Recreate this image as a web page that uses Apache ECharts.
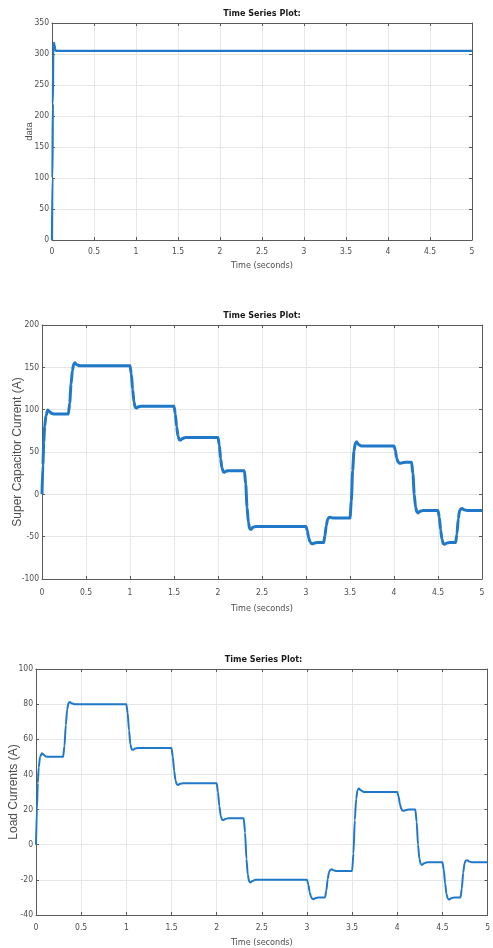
<!DOCTYPE html>
<html>
<head>
<meta charset="utf-8">
<script src="https://cdn.jsdelivr.net/npm/echarts@6/dist/echarts.min.js"></script>
<style>
html,body{margin:0;padding:0;background:#fff;}
#chart{width:493px;height:948px;}
</style>
</head>
<body>
<div id="chart"></div>
<script>
// ---- Data ----
const titleText = 'Time Series Plot:';
const xAxisName = 'Time (seconds)';

// Panel 1: DC voltage ("data")
const voltTime  = [0, 0.005, 0.01, 0.015, 0.02, 0.025, 0.03, 0.037, 0.045, 0.06, 5.0];
const voltValue = [0, 100, 220, 300, 316, 318, 315, 308, 305.5, 305, 305];

// Panel 2: Super Capacitor Current (A)
const scTime = [0,0.01,0.02,0.03,0.045,0.065,0.085,0.11,0.14,0.30,
  0.315,0.33,0.345,0.36,0.375,0.395,0.43,1.00,
  1.015,1.03,1.045,1.06,1.075,1.095,1.13,1.50,
  1.515,1.53,1.545,1.56,1.575,1.595,1.63,2.00,
  2.015,2.03,2.045,2.06,2.075,2.095,2.13,2.30,
  2.315,2.33,2.345,2.36,2.375,2.395,2.43,3.00,
  3.015,3.03,3.045,3.06,3.075,3.095,3.13,3.20,
  3.215,3.23,3.245,3.26,3.275,3.295,3.33,3.50,
  3.515,3.53,3.545,3.56,3.575,3.595,3.63,4.00,
  4.015,4.03,4.045,4.06,4.075,4.095,4.13,4.20,
  4.215,4.23,4.245,4.26,4.275,4.295,4.33,4.50,
  4.515,4.53,4.545,4.56,4.575,4.595,4.63,4.70,
  4.715,4.73,4.745,4.76,4.775,4.795,4.83,5.00];
const scValue = [0,35,62,80,93,99.5,97.5,95.5,95,95,
  108,130,146,154,155.5,153,152,152,
  142,124,109,102.5,102,103.5,104,104,
  95,80,69,64.5,64,66,67,67,
  58,42,31,26.5,26,27.5,28,28,
  12,-15,-33,-40.5,-41.5,-39,-38,-38,
  -43,-51,-56,-58,-58.5,-57.5,-57,-57,
  -49,-37,-30,-27.5,-27,-27.8,-28,-28,
  -8,28,51,60,62,59,57,57,
  52,43,38.5,36.8,36.6,37.4,38,38,
  24,0,-15,-21,-22,-20,-19,-19,
  -27,-42,-53,-58.5,-59,-57.8,-57,-57,
  -47,-29,-19.5,-17,-16.8,-18.2,-19,-19];

// Panel 3: Load Currents (A)
const loadTime = scTime.slice();
const loadValue = [0,20,35,44,50,52,51.2,50.2,50,50,
  56,68,77,80.6,81.2,80.5,80,80,
  75,65,57,54.2,54,54.7,55,55,
  50,42,36.5,34.2,34,34.7,35,35,
  30,22,16.5,14.2,14,14.7,15,15,
  7,-8,-17,-21,-21.5,-20.7,-20,-20,
  -22.5,-27,-29.8,-30.8,-31,-30.3,-30,-30,
  -26,-19.5,-15.5,-14.2,-14,-14.6,-15,-15,
  -5,14,26,31,32,31,30,30,
  27.5,23,20.3,19.4,19.3,19.7,20,20,
  13,0,-8,-11,-11.5,-10.6,-10,-10,
  -14,-22,-28,-30.8,-31.2,-30.5,-30,-30,
  -25,-16,-10.5,-9,-8.8,-9.5,-10,-10];

const panelYNames = ['data', 'Super Capacitor Current (A)', 'Load Currents (A)'];
const panelYMin = [0, -100, -40];
const panelYMax = [350, 200, 100];
const panelYStep = [50, 50, 20];
const xMin = 0, xMax = 5, xStep = 0.5;

// ---- Layout / style ----
const grids = [
  {left: 52, top: 23, width: 420, height: 217},
  {left: 42, top: 325, width: 440, height: 254},
  {left: 35, top: 669, width: 457, height: 247}
];
const titleTops = [9, 311, 655];
const labelMargins = [7, 9, 8];
const nameGaps = [21, 25, 23];
const yNameGaps = [18, 18, 16];
const yNameSizes = [9.5, 12, 12];
const lineWidths = [2.2, 3, 2];
const narrow = '"Liberation Sans Narrow", "DejaVu Sans Condensed", sans-serif';
const axisCol = '#5a5a5a';
const textCol = '#4d4d4d';
const gridCol = '#e6e6e6';
const lineCol = '#2078c9';

function pairs(t, v) { return t.map((x, i) => [x, v[i]]); }
const seriesData = [pairs(voltTime, voltValue), pairs(scTime, scValue), pairs(loadTime, loadValue)];

const xAxes = [], yAxes = [], series = [], titles = [];
grids.forEach((g, i) => {
  titles.push({
    text: titleText, left: g.left + g.width / 2, top: titleTops[i], textAlign: 'center', padding: 0,
    textStyle: {fontFamily: narrow, fontSize: 9, fontWeight: 'bold', color: '#1a1a1a'}
  });
  xAxes.push({
    type: 'value', gridIndex: i, min: xMin, max: xMax, interval: xStep, position: 'bottom',
    name: xAxisName, nameLocation: 'middle', nameGap: nameGaps[i],
    nameTextStyle: {fontFamily: narrow, fontSize: 9, color: textCol},
    axisLine: {show: true, onZero: false, lineStyle: {color: axisCol, width: 1}},
    axisTick: {show: true, inside: true, length: 3, lineStyle: {color: axisCol}},
    axisLabel: {fontFamily: narrow, fontSize: 8.5, color: textCol, margin: labelMargins[i]},
    splitLine: {show: true, lineStyle: {color: gridCol, width: 1}}
  });
  xAxes.push({
    type: 'value', gridIndex: i, min: xMin, max: xMax, interval: xStep, position: 'top',
    axisLine: {show: true, onZero: false, lineStyle: {color: axisCol, width: 1}},
    axisTick: {show: true, inside: true, length: 3, lineStyle: {color: axisCol}},
    axisLabel: {show: false}, splitLine: {show: false}
  });
  yAxes.push({
    type: 'value', gridIndex: i, min: panelYMin[i], max: panelYMax[i], interval: panelYStep[i], position: 'left',
    name: panelYNames[i], nameLocation: 'middle', nameGap: yNameGaps[i], nameMoveOverlap: false,
    nameTextStyle: {fontFamily: 'Liberation Sans, Arial, sans-serif', fontSize: yNameSizes[i], color: textCol},
    axisLine: {show: true, onZero: false, lineStyle: {color: axisCol, width: 1}},
    axisTick: {show: true, inside: true, length: 3, lineStyle: {color: axisCol}},
    axisLabel: {fontFamily: narrow, fontSize: 8.5, color: textCol, margin: 3},
    splitLine: {show: true, lineStyle: {color: gridCol, width: 1}}
  });
  yAxes.push({
    type: 'value', gridIndex: i, min: panelYMin[i], max: panelYMax[i], interval: panelYStep[i], position: 'right',
    axisLine: {show: true, onZero: false, lineStyle: {color: axisCol, width: 1}},
    axisTick: {show: true, inside: true, length: 3, lineStyle: {color: axisCol}},
    axisLabel: {show: false}, splitLine: {show: false}
  });
  series.push({
    type: 'line', xAxisIndex: i * 2, yAxisIndex: i * 2, data: seriesData[i],
    showSymbol: false, smooth: 0.25, smoothMonotone: 'x',
    lineStyle: {color: lineCol, width: lineWidths[i]}, clip: true
  });
});

const chart = echarts.init(document.getElementById('chart'), null, {renderer: 'canvas'});
chart.setOption({
  animation: false,
  backgroundColor: '#ffffff',
  title: titles,
  grid: grids,
  xAxis: xAxes,
  yAxis: yAxes,
  series: series
});
</script>
</body>
</html>
